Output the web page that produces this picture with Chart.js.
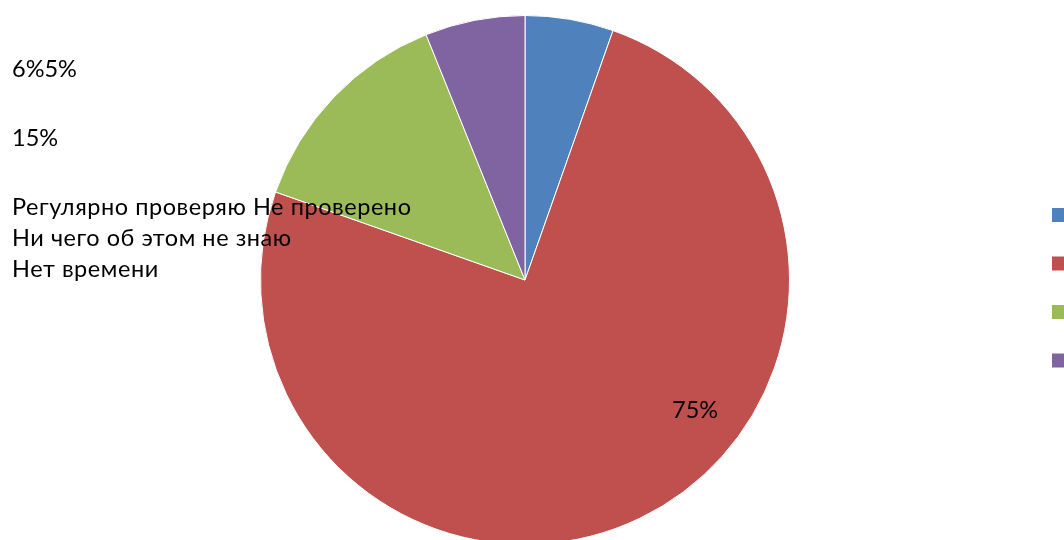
<!DOCTYPE html>
<html>
<head>
<meta charset="utf-8">
<script src="https://cdn.jsdelivr.net/npm/chart.js@4"></script>
<style>
  html, body { margin: 0; padding: 0; background: #fff; overflow: hidden; }
  #wrap { position: relative; width: 1064px; height: 550px; }
</style>
</head>
<body>
<div id="wrap"><canvas id="pieChart"></canvas></div>
<script>
// categories and values (slice sizes, percent labels as printed)
var categories = ['Регулярно проверяю', 'Не проверено', 'Ни чего об этом не знаю', 'Нет времени'];
var values = [5.4, 75.0, 13.5, 6.1];
var percentLabels = ['5%', '75%', '15%', '6%'];
var colors = ['#4F81BD', '#C0504D', '#9BBB59', '#8064A2'];

var font = '23.5px Lato, "Liberation Sans", sans-serif';

// text that sits over the chart, plus the clipped legend squares on the right
var overlay = {
    id: 'overlay',
    afterDraw: function(chart) {
        var ctx = chart.ctx;
        ctx.save();
        ctx.fillStyle = '#000';
        ctx.font = font;
        ctx.textBaseline = 'alphabetic';
        ctx.textAlign = 'left';
        ctx.fillText(percentLabels[3] + percentLabels[0], 12, 77);
        ctx.fillText(percentLabels[2], 12, 146);
        ctx.fillText(percentLabels[1], 672, 418);

        ctx.letterSpacing = '0.55px';
        ctx.fillText(categories[0] + ' ' + categories[1], 12, 215);
        ctx.fillText(categories[2], 12, 246);
        ctx.fillText(categories[3], 12, 277);

        for (var i = 0; i < categories.length; i++) {
            var y = 208 + i * 48.5;
            ctx.fillStyle = colors[i];
            ctx.fillRect(1052, y, 14, 14);
            ctx.fillStyle = '#000';
            ctx.fillText(categories[i], 1074, y + 13);
        }
        ctx.restore();
    }
};

var pieChart = new Chart(document.getElementById('pieChart'), {
    type: 'pie',
    data: {
        labels: categories,
        datasets: [{
            data: values,
            backgroundColor: colors,
            borderColor: '#ffffff',
            borderWidth: 1
        }]
    },
    options: {
        responsive: true,
        maintainAspectRatio: false,
        animation: false,
        layout: {
            padding: { left: 260, right: 274, top: 15, bottom: 5 }
        },
        plugins: {
            legend: { display: false },
            tooltip: { enabled: false }
        }
    },
    plugins: [overlay]
});
</script>
</body>
</html>
